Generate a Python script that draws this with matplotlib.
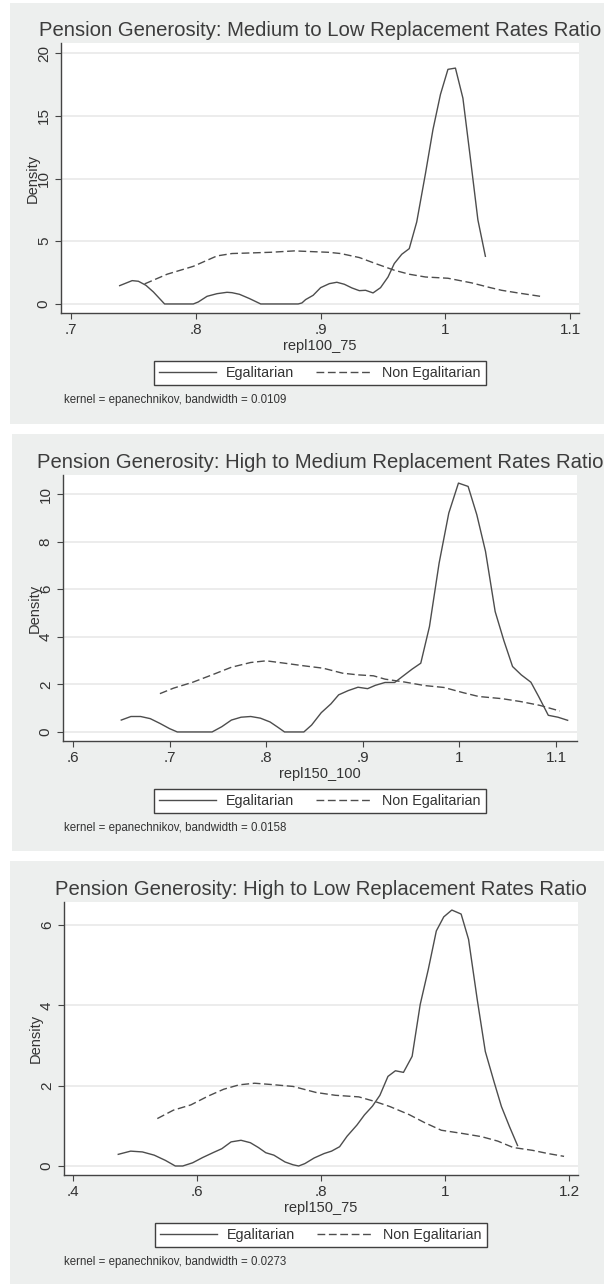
import matplotlib.pyplot as plt
from matplotlib.patches import Rectangle

W, H = 604, 1284
BG = '#EDEFEE'
INK = '#333333'
LINE = '#4d4d4d'

legend_labels = ['Egalitarian', 'Non Egalitarian']

# panel 1: repl100_75
egal1_x = [0.739, 0.749, 0.754, 0.760, 0.766, 0.775, 0.798, 0.802, 0.809, 0.817, 0.825, 0.829,
           0.835, 0.843, 0.852, 0.882, 0.885, 0.888, 0.894, 0.900, 0.907, 0.913, 0.919, 0.925,
           0.931, 0.936, 0.942, 0.948, 0.954, 0.959, 0.965, 0.971, 0.977, 0.984, 0.990, 0.996,
           1.002, 1.008, 1.014, 1.020, 1.026, 1.032]
egal1_y = [1.46, 1.86, 1.81, 1.49, 0.96, 0.0, 0.0, 0.16, 0.61, 0.82, 0.93, 0.90,
           0.77, 0.43, 0.0, 0.0, 0.08, 0.35, 0.69, 1.30, 1.62, 1.73, 1.57, 1.28,
           1.06, 1.09, 0.88, 1.30, 2.15, 3.22, 3.96, 4.41, 6.54, 10.4, 13.9, 16.7,
           18.7, 18.8, 16.4, 11.6, 6.7, 3.8]
nonegal1_x = [0.759, 0.777, 0.798, 0.817, 0.829, 0.845, 0.860, 0.879, 0.891, 0.906, 0.916,
              0.931, 0.944, 0.959, 0.971, 0.984, 1.002, 1.021, 1.036, 1.045, 1.058, 1.076]
nonegal1_y = [1.60, 2.37, 3.00, 3.83, 4.02, 4.07, 4.12, 4.23, 4.18, 4.12, 4.02,
              3.70, 3.22, 2.69, 2.37, 2.15, 2.05, 1.68, 1.30, 1.09, 0.88, 0.61]
xticks1 = [0.7, 0.8, 0.9, 1.0, 1.1]
xticklabels1 = ['.7', '.8', '.9', '1', '1.1']
yticks1 = [0, 5, 10, 15, 20]

# panel 2: repl150_100
egal2_x = [0.650, 0.660, 0.670, 0.680, 0.690, 0.700, 0.708, 0.744, 0.754, 0.764, 0.774, 0.784,
           0.794, 0.804, 0.812, 0.819, 0.839, 0.847, 0.857, 0.867, 0.875, 0.885, 0.895, 0.905,
           0.913, 0.923, 0.933, 0.941, 0.951, 0.960, 0.969, 0.979, 0.989, 0.999, 1.009, 1.018,
           1.027, 1.037, 1.046, 1.055, 1.064, 1.074, 1.082, 1.092, 1.102, 1.112]
egal2_y = [0.50, 0.65, 0.65, 0.56, 0.36, 0.14, 0.0, 0.0, 0.22, 0.50, 0.62, 0.65,
           0.58, 0.42, 0.20, 0.0, 0.0, 0.29, 0.81, 1.18, 1.56, 1.74, 1.88, 1.82,
           1.96, 2.08, 2.08, 2.33, 2.64, 2.89, 4.43, 7.10, 9.20, 10.46, 10.32, 9.13,
           7.59, 5.06, 3.84, 2.75, 2.40, 2.09, 1.49, 0.70, 0.62, 0.49]
nonegal2_x = [0.690, 0.704, 0.724, 0.744, 0.764, 0.784, 0.800, 0.819, 0.839, 0.859, 0.879, 0.895,
              0.911, 0.923, 0.943, 0.964, 0.984, 1.004, 1.020, 1.044, 1.063, 1.083, 1.104]
nonegal2_y = [1.61, 1.84, 2.09, 2.40, 2.72, 2.92, 2.99, 2.89, 2.78, 2.68, 2.47, 2.40,
              2.36, 2.22, 2.10, 1.95, 1.87, 1.65, 1.49, 1.40, 1.28, 1.12, 0.88]
xticks2 = [0.6, 0.7, 0.8, 0.9, 1.0, 1.1]
xticklabels2 = ['.6', '.7', '.8', '.9', '1', '1.1']
yticks2 = [0, 2, 4, 6, 8, 10]

# panel 3: repl150_75
egal3_x = [0.473, 0.493, 0.512, 0.531, 0.549, 0.565, 0.577, 0.593, 0.609, 0.627, 0.640, 0.655,
           0.671, 0.686, 0.699, 0.711, 0.724, 0.742, 0.755, 0.764, 0.774, 0.789, 0.805, 0.817,
           0.830, 0.842, 0.858, 0.870, 0.883, 0.895, 0.908, 0.920, 0.933, 0.947, 0.960, 0.973,
           0.986, 0.998, 1.011, 1.026, 1.038, 1.052, 1.065, 1.079, 1.091, 1.104, 1.117]
egal3_y = [0.29, 0.37, 0.35, 0.27, 0.14, 0.0, 0.0, 0.08, 0.21, 0.34, 0.43, 0.60,
           0.64, 0.58, 0.46, 0.33, 0.27, 0.10, 0.03, 0.0, 0.06, 0.20, 0.31, 0.37,
           0.48, 0.74, 1.02, 1.27, 1.49, 1.76, 2.23, 2.37, 2.33, 2.73, 4.02, 4.89,
           5.85, 6.20, 6.37, 6.27, 5.64, 4.14, 2.85, 2.10, 1.48, 0.98, 0.51]
nonegal3_x = [0.536, 0.562, 0.590, 0.618, 0.643, 0.668, 0.693, 0.718, 0.755, 0.792, 0.823, 0.861,
              0.886, 0.911, 0.942, 0.967, 0.994, 1.028, 1.059, 1.085, 1.110, 1.141, 1.166, 1.192]
nonegal3_y = [1.18, 1.39, 1.52, 1.74, 1.91, 2.02, 2.06, 2.03, 1.98, 1.83, 1.76, 1.72,
              1.61, 1.48, 1.28, 1.08, 0.89, 0.81, 0.73, 0.62, 0.46, 0.39, 0.31, 0.24]
xticks3 = [0.4, 0.6, 0.8, 1.0, 1.2]
xticklabels3 = ['.4', '.6', '.8', '1', '1.2']
yticks3 = [0, 2, 4, 6]


def px_box(left, top, right, bottom):
    return [left / W, 1 - bottom / H, (right - left) / W, (bottom - top) / H]


def draw_panel(fig, grey, box, title, xlabel, note, xlim, ylim, xticks, xticklabels, yticks,
               ex, ey, nx, ny):
    l, t, r, b = grey
    fig.patches.append(Rectangle((l / W, 1 - b / H), (r - l) / W, (b - t) / H,
                                 transform=fig.transFigure, facecolor=BG,
                                 edgecolor='none', zorder=-5))
    ax = fig.add_axes(px_box(*box))
    ax.set_facecolor('white')
    h1, = ax.plot(ex, ey, color=LINE, lw=1.0)
    h2, = ax.plot(nx, ny, color=LINE, lw=1.0, linestyle=(0, (5.6, 2.6)))
    ax.set_xlim(xlim)
    ax.set_ylim(ylim)
    ax.set_xticks(xticks)
    ax.set_xticklabels(xticklabels)
    ax.set_yticks(yticks)
    ax.set_yticklabels([str(v) for v in yticks])
    ax.yaxis.grid(True, color='#EAEAEA', lw=1.3)
    ax.set_axisbelow(True)
    for side in ['top', 'right']:
        ax.spines[side].set_visible(False)
    for side in ['left', 'bottom']:
        ax.spines[side].set_color('#444444')
        ax.spines[side].set_linewidth(1.0)
    ax.tick_params(length=4.3, width=0.8, color='#444444', labelsize=11,
                   labelcolor=INK, pad=3)
    ax.tick_params(axis='y', labelrotation=90)
    for lab in ax.get_yticklabels():
        lab.set_va('center')
    ax.set_title(title, fontsize=14.6, color='#3c3c3c', pad=5)
    ax.set_xlabel(xlabel, fontsize=10.5, color=INK, labelpad=1)
    ax.set_ylabel('Density', fontsize=10.5, color=INK)
    ax.yaxis.set_label_coords(-21 / (box[2] - box[0]), 0.5)

    cx = (box[0] + box[2]) / 2
    leg = ax.legend([h1, h2], legend_labels, loc='upper center',
                    bbox_to_anchor=(cx / W, 1 - (box[3] + 48) / H),
                    bbox_transform=fig.transFigure, ncol=2, fontsize=10.4,
                    frameon=True, fancybox=False, framealpha=1, edgecolor='#404040',
                    handlelength=3.9, handletextpad=0.7, columnspacing=1.5,
                    borderpad=0.35, borderaxespad=0)
    leg.get_frame().set_linewidth(1.0)
    for txt in leg.get_texts():
        txt.set_color(INK)
    fig.text(64 / W, 1 - (box[3] + 87) / H, note, fontsize=8.3, color=INK,
             ha='left', va='center')
    return ax


def main():
    plt.rcParams['font.family'] = ['Liberation Sans', 'DejaVu Sans']
    plt.rcParams['lines.scale_dashes'] = False
    fig = plt.figure(figsize=(W / 100, H / 100), dpi=100, facecolor='white')

    draw_panel(fig, (10, 3, 604, 424), (61, 43, 579, 313),
               'Pension Generosity: Medium to Low Replacement Rates Ratio', 'repl100_75',
               'kernel = epanechnikov, bandwidth = 0.0109',
               (0.692, 1.107), (-0.72, 20.8), xticks1, xticklabels1, yticks1,
               egal1_x, egal1_y, nonegal1_x, nonegal1_y)
    draw_panel(fig, (12, 434, 604, 851), (63, 475, 577, 741),
               'Pension Generosity: High to Medium Replacement Rates Ratio', 'repl150_100',
               'kernel = epanechnikov, bandwidth = 0.0158',
               (0.5897, 1.1217), (-0.38, 10.8), xticks2, xticklabels2, yticks2,
               egal2_x, egal2_y, nonegal2_x, nonegal2_y)
    draw_panel(fig, (10, 861, 604, 1284), (64, 902, 578, 1175),
               'Pension Generosity: High to Low Replacement Rates Ratio', 'repl150_75',
               'kernel = epanechnikov, bandwidth = 0.0273',
               (0.3855, 1.2145), (-0.224, 6.57), xticks3, xticklabels3, yticks3,
               egal3_x, egal3_y, nonegal3_x, nonegal3_y)

    fig.savefig('out.png', dpi=100)


if __name__ == "__main__":
    main()
